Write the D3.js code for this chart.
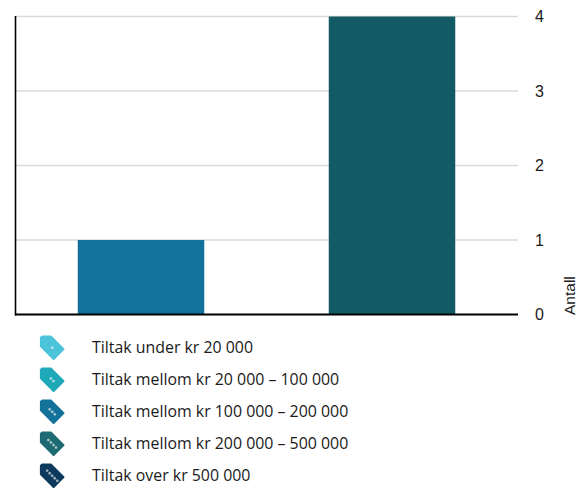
<!DOCTYPE html>
<html><head><meta charset="utf-8">
<script src="https://cdnjs.cloudflare.com/ajax/libs/d3/7.8.5/d3.min.js"></script>
<style>html,body{margin:0;padding:0;background:#fff}svg{display:block}</style>
</head><body><svg id="c" width="580" height="488"></svg>
<script>
const barCategories = ["Tiltak mellom kr 100 000 – 200 000", "Tiltak mellom kr 200 000 – 500 000"];
const barValues = [1, 4];
const barColors = ["#137299", "#145a64"];
const yTicks = [0, 1, 2, 3, 4];
const axisTitle = "Antall";
const legendLabels = ["Tiltak under kr 20 000", "Tiltak mellom kr 20 000 – 100 000", "Tiltak mellom kr 100 000 – 200 000", "Tiltak mellom kr 200 000 – 500 000", "Tiltak over kr 500 000"];
const legendColors = ["#4cc3d9", "#1fa9b8", "#137299", "#1e6a72", "#0d3a5c"];
const legendMarks = [1, 2, 3, 4, 5];

const svg = d3.select("#c");
const x = d3.scaleBand().domain(barCategories).range([15.5, 517.5]).paddingInner(0.496).paddingOuter(0.248);
const y = d3.scaleLinear().domain([0, 4]).range([314.5, 16.5]);

svg.append("g").selectAll("line").data(yTicks.filter(d => d > 0)).join("line")
  .attr("x1", 16).attr("x2", 518).attr("y1", d => y(d)).attr("y2", d => y(d))
  .attr("stroke", "#d9d9d9").attr("stroke-width", 1.5);

svg.append("g").selectAll("rect").data(barValues).join("rect")
  .attr("x", (d, i) => x(barCategories[i])).attr("width", x.bandwidth())
  .attr("y", d => y(d)).attr("height", d => y(0) - y(d))
  .attr("fill", (d, i) => barColors[i]);

svg.append("line").attr("x1", 15.5).attr("x2", 15.5).attr("y1", 16).attr("y2", 315.5)
  .attr("stroke", "#000").attr("stroke-width", 1.6);
svg.append("line").attr("x1", 15).attr("x2", 518).attr("y1", y(0)).attr("y2", y(0))
  .attr("stroke", "#000").attr("stroke-width", 2);

const ax = svg.append("g").attr("transform", "translate(525,0)")
  .call(d3.axisRight(y).tickValues(yTicks).tickSize(0).tickPadding(10).tickFormat(d3.format("d")));
ax.select(".domain").remove();
ax.selectAll("text").attr("font-family", "'Liberation Sans'").attr("font-size", 16).attr("fill", "#1a1a1a");

svg.append("text").attr("transform", "translate(575,315) rotate(-90)")
  .attr("font-family", "'Liberation Sans'").attr("font-size", 15.5).attr("fill", "#222").text(axisTitle);

const row = d3.scalePoint().domain(legendLabels).range([347, 475]);
const lg = svg.append("g").selectAll("g").data(legendLabels).join("g")
  .attr("transform", d => `translate(0,${row(d)})`);
lg.append("text").attr("x", 92).attr("y", 0).attr("dy", "0.35em")
  .attr("font-family", "'Open Sans'").attr("font-size", 15.9).attr("fill", "#1a1a1a").text(d => d);
const icon = lg.append("g").attr("transform", "translate(51.5,0) rotate(45)");
icon.append("path").attr("d", "M-14,-1 L-8,-7 L10,-7 L10,7 L-8,7 L-14,1 Z")
  .attr("fill", (d, i) => legendColors[i]).attr("stroke", (d, i) => legendColors[i])
  .attr("stroke-width", 2).attr("stroke-linejoin", "round");
icon.each(function (d, i) {
  const n = legendMarks[i];
  d3.select(this).selectAll("circle").data(d3.range(n)).join("circle")
    .attr("cx", k => (k - (n - 1) / 2) * 3.6 + 1).attr("cy", 0).attr("r", 1.4)
    .attr("fill", "#fff").attr("opacity", 0.6);
});
</script></body></html>
